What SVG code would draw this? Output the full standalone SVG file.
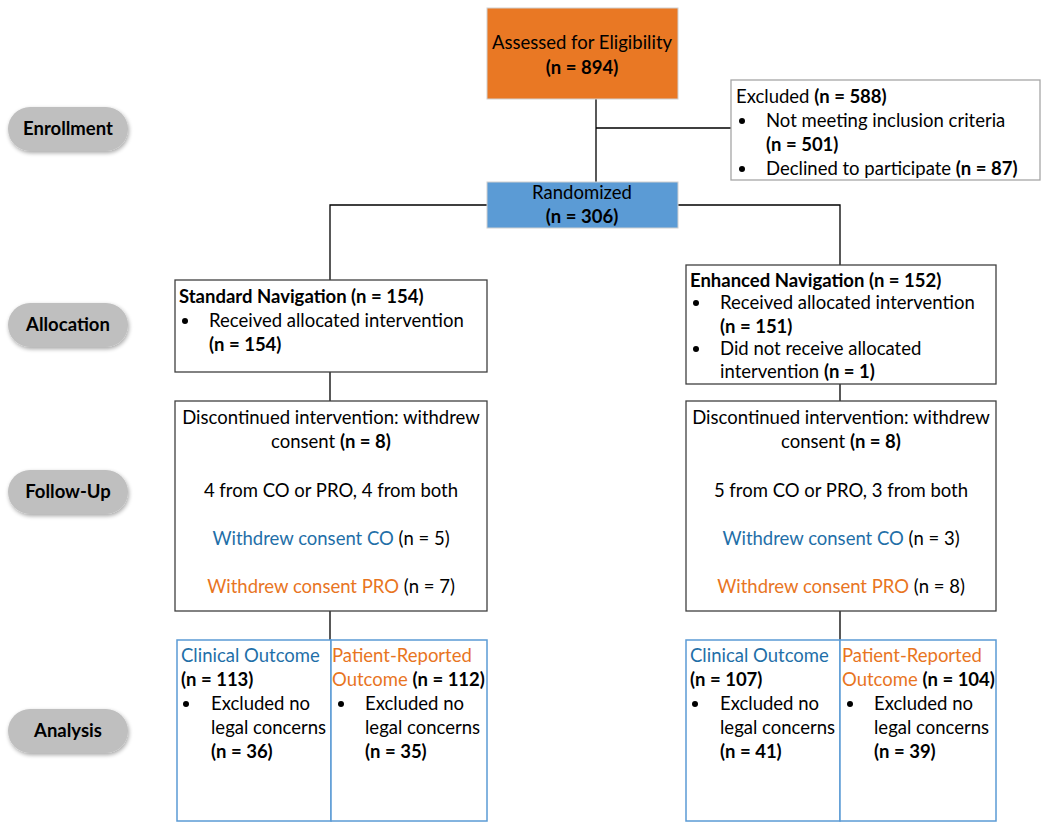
<svg xmlns="http://www.w3.org/2000/svg" width="1050" height="833" viewBox="0 0 1050 833">
<defs>
<filter id="sh" x="-20%" y="-30%" width="140%" height="160%">
<feGaussianBlur in="SourceAlpha" stdDeviation="2"/>
<feOffset dx="1" dy="2" result="b"/>
<feComponentTransfer><feFuncA type="linear" slope="0.35"/></feComponentTransfer>
<feMerge><feMergeNode/><feMergeNode in="SourceGraphic"/></feMerge>
</filter>
</defs>
<style>
text{font-family:Lato,"Liberation Sans",sans-serif;font-size:18.5px;fill:#000}
.b{font-weight:bold}
.c{text-anchor:middle}
.box{fill:#fff;stroke:#404040;stroke-width:1.3}
.gbox{fill:#fff;stroke:#a6a6a6;stroke-width:1.3}
.abox{fill:#fff;stroke:#5b9bd5;stroke-width:1.5}
.pill{fill:#bfbfbf}
.blue{fill:#1f6fa8}
.or{fill:#e8751f}
.ln{stroke:#000;stroke-width:1.3;fill:none}
</style>
<g id="stages">
<g id="stage-enrollment"><rect class="pill" x="8" y="107" width="120" height="44" rx="22" filter="url(#sh)"/><text class="b c" x="68" y="135">Enrollment</text></g>
<g id="stage-allocation"><rect class="pill" x="8" y="303" width="120" height="44" rx="22" filter="url(#sh)"/><text class="b c" x="68" y="331">Allocation</text></g>
<g id="stage-followup"><rect class="pill" x="8" y="470" width="120" height="44" rx="22" filter="url(#sh)"/><text class="b c" x="68" y="498">Follow-Up</text></g>
<g id="stage-analysis"><rect class="pill" x="8" y="709" width="120" height="44" rx="22" filter="url(#sh)"/><text class="b c" x="68" y="737">Analysis</text></g>
</g>
<g id="connectors">
<path class="ln" d="M596 99V182M596 128H731M330 280V205H487M678 205H840V265M330 372V401M840 384V401M330 611V640M840 611V640"/>
</g>
<g id="assessed"><rect x="487" y="8" width="191" height="91" fill="#e97824" stroke="#d0d0d0"/><text class="c" x="582" y="49">Assessed for Eligibility</text><text class="c b" x="582" y="74">(n = 894)</text></g>
<g id="excluded"><rect class="gbox" x="731" y="80" width="309" height="100"/>
<text x="736" y="103">Excluded <tspan class="b">(n = 588)</tspan></text>
<circle cx="742" cy="121" r="3"/><text x="766" y="127">Not meeting inclusion criteria</text>
<text class="b" x="766" y="151">(n = 501)</text>
<circle cx="742" cy="169" r="3"/><text x="766" y="175">Declined to participate <tspan class="b">(n = 87)</tspan></text></g>
<g id="randomized"><rect x="487" y="182" width="191" height="46" fill="#5b9bd5" stroke="#d0d0d0"/><text class="c" x="582" y="199">Randomized</text><text class="c b" x="582" y="223">(n = 306)</text></g>
<g id="standard"><rect class="box" x="175" y="280" width="312" height="92"/>
<text class="b" x="179" y="303">Standard Navigation (n = 154)</text>
<circle cx="185" cy="321" r="3"/><text x="209" y="327">Received allocated intervention</text>
<text class="b" x="209" y="351">(n = 154)</text></g>
<g id="enhanced"><rect class="box" x="686" y="265" width="310" height="119"/>
<text class="b" x="690" y="287">Enhanced Navigation (n = 152)</text>
<circle cx="696" cy="303" r="3"/><text x="720" y="309">Received allocated intervention</text>
<text class="b" x="720" y="333">(n = 151)</text>
<circle cx="696" cy="349" r="3"/><text x="720" y="355">Did not receive allocated</text>
<text x="720" y="378">intervention <tspan class="b">(n = 1)</tspan></text></g>
<g id="followup-standard"><rect class="box" x="175" y="401" width="312" height="210"/>
<text class="c" x="331" y="424">Discontinued intervention: withdrew</text>
<text class="c" x="331" y="448">consent <tspan class="b">(n = 8)</tspan></text>
<text class="c" x="331" y="497">4 from CO or PRO, 4 from both</text>
<text class="c" x="331" y="545"><tspan class="blue">Withdrew consent CO</tspan> (n = 5)</text>
<text class="c" x="331" y="593"><tspan class="or">Withdrew consent PRO</tspan> (n = 7)</text></g>
<g id="followup-enhanced"><rect class="box" x="686" y="401" width="310" height="210"/>
<text class="c" x="841" y="424">Discontinued intervention: withdrew</text>
<text class="c" x="841" y="448">consent <tspan class="b">(n = 8)</tspan></text>
<text class="c" x="841" y="497">5 from CO or PRO, 3 from both</text>
<text class="c" x="841" y="545"><tspan class="blue">Withdrew consent CO</tspan> (n = 3)</text>
<text class="c" x="841" y="593"><tspan class="or">Withdrew consent PRO</tspan> (n = 8)</text></g>
<g id="analysis-standard-co"><rect class="abox" x="177" y="640" width="154" height="181"/>
<text class="blue" x="181" y="662">Clinical Outcome</text>
<text class="b" x="181" y="686">(n = 113)</text>
<circle cx="186" cy="704" r="3"/><text x="211" y="710">Excluded no</text>
<text x="211" y="734">legal concerns</text>
<text class="b" x="211" y="758">(n = 36)</text></g>
<g id="analysis-standard-pro"><rect class="abox" x="331" y="640" width="156" height="181"/>
<text class="or" x="332" y="662">Patient-Reported</text>
<text x="332" y="686"><tspan class="or">Outcome</tspan> <tspan class="b">(n = 112)</tspan></text>
<circle cx="341" cy="704" r="3"/><text x="365" y="710">Excluded no</text>
<text x="365" y="734">legal concerns</text>
<text class="b" x="365" y="758">(n = 35)</text></g>
<g id="analysis-enhanced-co"><rect class="abox" x="686" y="640" width="154" height="181"/>
<text class="blue" x="690" y="662">Clinical Outcome</text>
<text class="b" x="690" y="686">(n = 107)</text>
<circle cx="695" cy="704" r="3"/><text x="720" y="710">Excluded no</text>
<text x="720" y="734">legal concerns</text>
<text class="b" x="720" y="758">(n = 41)</text></g>
<g id="analysis-enhanced-pro"><rect class="abox" x="840" y="640" width="156" height="181"/>
<text class="or" x="842" y="662">Patient-Reported</text>
<text x="842" y="686"><tspan class="or">Outcome</tspan> <tspan class="b">(n = 104)</tspan></text>
<circle cx="850" cy="704" r="3"/><text x="874" y="710">Excluded no</text>
<text x="874" y="734">legal concerns</text>
<text class="b" x="874" y="758">(n = 39)</text></g>
</svg>
